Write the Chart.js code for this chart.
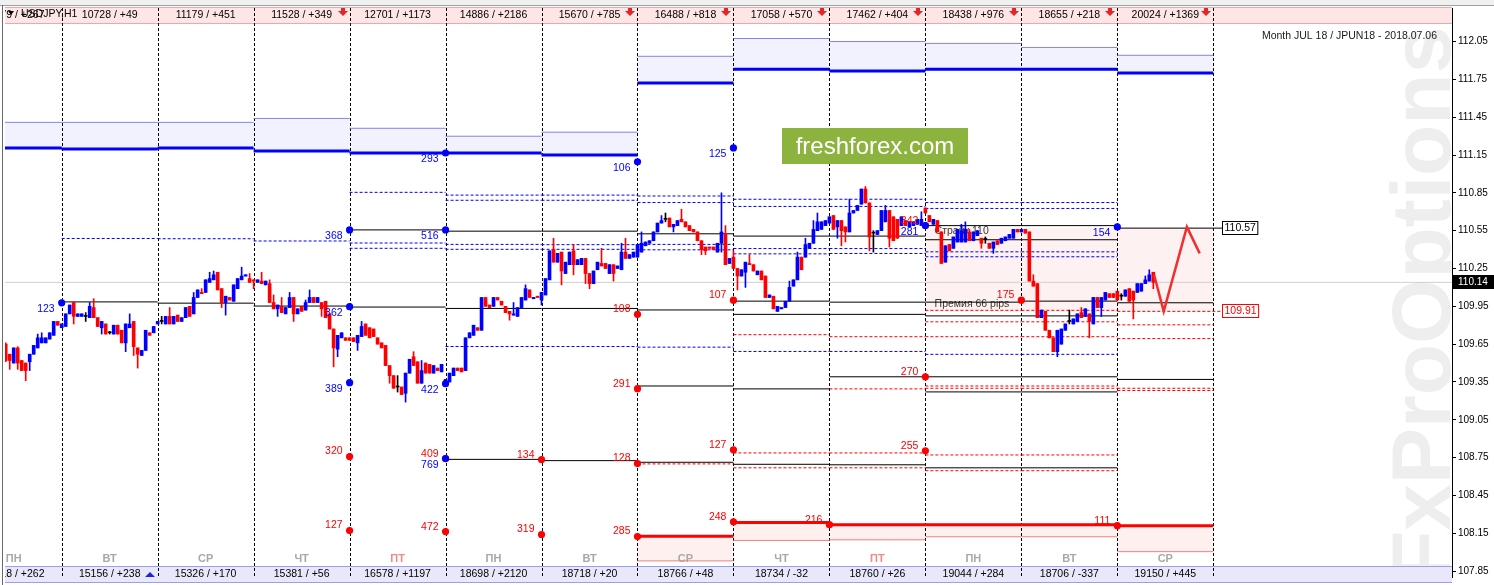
<!DOCTYPE html>
<html>
<head>
<meta charset="utf-8">
<script src="https://cdn.jsdelivr.net/npm/chart.js@4.4.1/dist/chart.umd.min.js"></script>
<style>
html,body{margin:0;padding:0;background:#fff;overflow:hidden}
#box{width:1494px;height:585px;position:relative}
</style>
</head>
<body>
<div id="box"><canvas id="chart"></canvas></div>
<script>
const _ = null;

// H1 candles, first one is 14 hours before the first day separator
const firstHour = -14;
const opens = [
  109.65,109.57,109.50,109.62,109.52,109.50,109.51,109.57,109.62,109.66,109.66,109.69,109.72,109.83,
  109.78,109.79,109.89,109.98,109.87,109.87,109.87,109.86,109.94,109.86,109.78,109.81,109.74,109.73,109.80,109.76,109.66,109.78,109.83,109.62,109.56,109.60,109.74,109.74,
  109.81,109.83,109.81,109.87,109.81,109.88,109.83,109.86,109.95,109.89,110.02,110.06,110.06,110.14,110.16,110.22,110.09,109.98,110.02,109.99,110.09,110.16,110.19,110.17,
  110.16,110.14,110.15,110.12,110.13,109.98,109.93,109.95,109.89,109.94,110.02,109.89,109.95,109.92,109.98,110.02,109.98,109.98,109.99,109.89,109.77,109.61,109.70,109.70,
  109.70,109.70,109.66,109.71,109.81,109.78,109.77,109.70,109.66,109.64,109.48,109.40,109.31,109.31,109.26,109.42,109.55,109.51,109.34,109.50,109.49,109.42,109.46,109.43,
  109.34,109.35,109.40,109.46,109.46,109.44,109.70,109.72,109.78,109.76,110.02,109.96,109.95,110.02,109.99,109.95,109.91,109.88,109.87,109.94,110.00,110.08,110.01,110.03,
  110.00,110.04,110.16,110.40,110.30,110.38,110.21,110.28,110.39,110.28,110.28,110.33,110.21,110.13,110.24,110.29,110.29,110.21,110.28,110.25,110.24,110.38,110.33,110.34,
  110.34,110.38,110.43,110.45,110.47,110.54,110.61,110.64,110.65,110.58,110.59,110.64,110.62,110.59,110.56,110.54,110.47,110.42,110.42,110.42,110.38,110.45,110.52,110.29,
  110.34,110.25,110.19,110.22,110.29,110.28,110.20,110.23,110.19,110.02,110.03,109.91,109.93,109.94,109.99,110.11,110.16,110.34,110.34,110.41,110.45,110.55,110.56,110.59,
  110.61,110.67,110.58,110.63,110.58,110.54,110.69,110.71,110.76,110.88,110.77,110.53,110.52,110.55,110.62,110.71,110.66,110.64,110.59,110.63,110.58,110.59,110.60,110.59,
  110.73,110.67,110.60,110.63,110.54,110.30,110.44,110.41,110.46,110.46,110.46,110.54,110.47,110.51,110.49,110.48,110.45,110.41,110.47,110.45,110.47,110.49,110.49,110.56,
  110.54,110.56,110.54,110.15,110.13,109.86,109.91,109.76,109.70,109.59,109.65,109.76,109.83,109.81,109.83,109.90,109.87,109.89,109.81,110.02,109.94,110.00,110.05,110.05,
  110.07,110.03,110.03,110.09,110.07,110.06,110.07,110.13,110.15,110.22
];
const closes = [
  109.52,109.52,109.62,109.50,109.44,109.44,109.57,109.64,109.70,109.70,109.70,109.74,109.83,109.80,
  109.81,109.89,109.96,109.87,109.89,109.89,109.87,109.95,109.86,109.79,109.83,109.73,109.74,109.80,109.73,109.66,109.81,109.81,109.63,109.57,109.60,109.76,109.72,109.79,
  109.83,109.83,109.87,109.81,109.87,109.83,109.86,109.94,109.87,110.02,110.08,110.05,110.16,110.17,110.20,110.08,109.98,110.03,110.00,110.12,110.17,110.19,110.20,110.14,
  110.15,110.16,110.13,110.15,109.98,109.93,109.96,109.90,109.94,110.02,109.89,109.93,109.91,109.98,110.02,109.98,110.02,109.93,109.86,109.77,109.62,109.72,109.74,109.68,
  109.68,109.67,109.72,109.79,109.72,109.70,109.71,109.65,109.62,109.48,109.40,109.30,109.31,109.25,109.42,109.53,109.48,109.34,109.44,109.42,109.42,109.48,109.44,109.49,
  109.37,109.42,109.46,109.44,109.43,109.70,109.74,109.80,109.76,110.02,109.95,109.94,110.02,110.00,109.96,109.90,109.89,109.89,109.94,110.02,110.09,110.02,110.02,110.02,
  110.06,110.17,110.39,110.30,110.37,110.23,110.30,110.38,110.28,110.32,110.33,110.21,110.13,110.23,110.30,110.27,110.25,110.28,110.21,110.27,110.38,110.33,110.36,110.38,
  110.44,110.45,110.46,110.47,110.54,110.61,110.63,110.64,110.58,110.60,110.63,110.62,110.58,110.55,110.54,110.47,110.40,110.39,110.41,110.40,110.45,110.54,110.28,110.33,
  110.25,110.19,110.24,110.30,110.28,110.23,110.23,110.16,110.02,110.04,109.93,109.95,109.94,109.99,110.10,110.16,110.34,110.24,110.44,110.45,110.56,110.62,110.62,110.63,
  110.66,110.56,110.63,110.55,110.54,110.69,110.71,110.75,110.88,110.77,110.50,110.53,110.55,110.71,110.71,110.49,110.47,110.49,110.66,110.59,110.62,110.62,110.64,110.64,
  110.69,110.62,110.64,110.54,110.29,110.43,110.39,110.50,110.56,110.55,110.56,110.47,110.54,110.55,110.45,110.48,110.41,110.46,110.44,110.49,110.50,110.52,110.56,110.54,
  110.56,110.53,110.15,110.11,109.86,109.92,109.76,109.70,109.59,109.76,109.77,109.81,109.83,109.85,109.89,109.86,109.93,109.83,110.02,109.94,110.02,110.06,110.02,110.02,
  110.00,110.03,110.08,109.99,110.00,110.13,110.13,110.16,110.20,110.14
];
// wick ends where they stick out of the body (null = no visible wick)
const highs = [
  109.66,_,_,109.63,_,_,_,_,109.73,109.74,_,_,_,_,
  _,_,_,_,_,_,109.90,109.98,110.01,_,_,_,109.75,_,_,_,_,109.89,_,_,_,_,_,_,
  _,109.87,_,109.94,_,_,_,_,_,110.06,_,110.09,_,110.22,110.23,_,_,_,_,_,_,110.26,_,110.21,
  _,_,110.22,_,110.16,110.04,_,110.02,_,110.06,_,_,_,110.00,110.08,_,_,_,_,_,_,_,_,_,
  _,_,_,109.83,_,_,_,_,_,_,_,_,109.40,_,_,_,109.59,_,109.52,_,_,_,_,_,
  _,_,_,_,_,_,_,_,_,_,_,_,_,_,_,_,_,109.98,_,_,110.12,_,_,_,
  _,_,_,110.49,_,_,_,_,110.44,_,_,_,_,_,_,110.41,_,_,_,_,110.45,110.49,_,_,
  _,110.54,_,_,_,_,110.67,110.69,_,_,_,110.72,_,_,_,_,_,_,_,_,_,110.85,110.59,_,
  110.39,_,_,_,110.36,_,_,_,_,_,_,_,_,_,110.15,_,110.38,_,110.49,_,110.63,110.69,_,_,
  _,_,_,_,_,110.80,_,_,_,110.90,_,110.55,_,_,110.75,_,_,_,_,_,_,_,_,110.70,
  _,_,_,_,_,_,_,_,_,110.60,110.62,110.56,_,_,_,110.50,_,_,_,_,_,_,_,_,
  _,_,_,110.20,_,_,_,_,_,_,_,_,109.92,_,_,109.94,_,_,_,_,_,_,_,_,
  _,110.05,_,_,_,_,_,110.19,110.24,_
];
const lows = [
  109.51,109.45,_,109.45,_,109.36,109.44,_,_,_,_,_,_,_,
  _,_,_,109.81,_,_,109.83,_,_,_,109.73,_,109.73,_,_,_,109.59,_,109.56,109.46,_,_,_,_,
  _,109.81,_,_,_,_,_,_,_,_,_,_,_,_,_,_,109.94,109.88,_,_,_,_,_,_,
  110.09,_,_,_,_,_,109.87,_,_,_,109.83,_,_,_,_,_,_,109.87,_,_,109.47,109.55,_,_,
  _,_,109.60,_,_,_,_,_,_,_,109.34,_,109.27,_,109.19,_,_,_,_,_,_,_,_,_,
  _,_,_,_,_,_,_,_,_,_,_,_,_,_,_,_,109.84,_,_,_,_,_,_,_,
  109.96,_,_,_,_,110.12,_,_,110.20,_,_,110.13,110.09,_,_,_,_,_,110.15,_,_,_,_,_,
  _,_,_,_,_,_,_,110.62,_,110.54,_,_,_,_,_,_,110.36,110.36,_,_,_,110.38,_,_,
  _,110.08,_,110.10,_,_,_,_,_,_,_,_,_,_,_,_,_,_,_,_,_,_,_,_,
  _,_,110.49,110.43,110.46,_,_,_,_,_,110.39,110.38,_,_,_,110.42,_,_,_,_,_,_,_,_,
  _,_,_,_,_,_,_,_,_,_,_,_,_,_,110.41,110.45,_,110.37,_,_,_,_,_,_,
  _,_,_,_,_,_,_,_,_,109.55,_,_,109.81,_,_,_,_,109.70,_,_,109.87,_,_,_,
  _,110.00,_,_,109.85,_,_,_,_,110.09
];

// day cells (hour where each day starts)
const dayStarts = [-24,0,24,48,72,96,120,144,168,192,216,240,264];
const dayEdges = [0,24,48,72,96,120,144,168,192,216,240,264,288];
const dayNames = ['ПН','ВТ','СР','ЧТ','ПТ','ПН','ВТ','СР','ЧТ','ПТ','ПН','ВТ','СР'];
const topStats = ['10679 / +267','10728 / +49','11179 / +451','11528 / +349','12701 / +1173','14886 / +2186','15670 / +785','16488 / +818','17058 / +570','17462 / +404','18438 / +976','18655 / +218','20024 / +1369'];
const bottomStats = ['14918 / +262','15156 / +238','15326 / +170','15381 / +56','16578 / +1197','18698 / +2120','18718 / +20','18766 / +48','18734 / -32','18760 / +26','19044 / +284','18706 / -337','19150 / +445'];
const topArrow = [0,0,0,1,0,0,1,1,1,1,1,1,1];
const bottomArrow = [0,1,0,0,0,0,0,0,0,0,0,0,0];

// option levels, one value per day cell
const callBold = [111.205,111.198,111.205,111.182,111.166,111.166,111.151,111.722,111.831,111.816,111.831,111.831,111.800];
const callThin = [111.409,111.409,111.409,111.440,111.362,111.299,111.331,111.933,112.074,112.050,112.035,112.003,111.941];
const putBold = [_,_,_,_,_,_,_,108.126,108.236,108.218,108.218,108.218,108.210];
const putThin = [_,_,_,_,_,_,_,107.931,108.093,108.098,108.122,108.122,108.004];

const blackHigh = [_,_,_,_,110.556,110.546,110.546,110.525,110.507,110.507,110.59,110.59,110.57];
const blackHigh2 = [_,_,_,_,_,_,_,_,_,_,110.478,110.478,_];
const blackMid = [_,109.985,109.975,109.952,109.944,109.933,109.933,109.921,109.991,109.983,109.983,109.991,109.978];
const blackMid2 = [_,_,_,_,_,_,_,_,109.886,109.886,109.874,109.874,_];
const blackLow = [_,_,_,_,_,_,_,109.318,109.295,109.391,109.391,109.391,109.370];
const blackLow2 = [_,_,_,_,_,_,_,_,_,_,109.271,109.271,_];
const blackBottom = [_,_,_,_,_,108.736,108.726,108.713,108.697,108.693,108.669,108.669,_];

const blueDash1 = [_,_,_,_,110.854,110.832,110.832,110.825,110.799,110.799,110.773,110.773,_];
const blueDash2 = [_,_,_,_,_,110.791,110.791,110.773,110.742,110.742,110.726,110.726,_];
const blueDash3 = [_,110.488,110.486,110.468,110.452,110.441,110.439,110.441,110.408,110.408,110.382,110.382,_];
const blueDash4 = [_,_,_,_,110.410,110.402,110.402,110.398,110.366,110.369,110.343,110.343,_];
const blueDash5 = [_,_,_,_,_,109.631,109.631,109.626,109.592,109.592,109.569,109.569,_];

const redDash1 = [_,_,_,_,_,_,_,_,_,_,109.918,109.918,109.91];
const redDash2 = [_,_,_,_,_,_,_,_,_,_,109.827,109.827,109.803];
const redDash3 = [_,_,_,_,_,_,_,_,109.725,109.709,109.709,109.709,109.694];
const redDash4 = [_,_,_,_,_,_,_,_,_,109.295,109.318,109.318,109.300];
const redDash5 = [_,_,_,_,_,_,_,_,_,_,109.300,109.300,109.282];
const redDash6 = [_,_,_,_,_,_,_,108.700,108.787,108.787,108.771,108.771,_];
const redDash7 = [_,_,_,_,_,_,_,_,108.669,108.669,108.646,108.646,_];

// premium zone (strike 110 / 66 pips)
const premiumCells = [10,11,12];
const premiumTop = 110.57;
const premiumBottom = 109.91;

// open interest dots
const callDotHours = [0,72,96,96,144,168,72,72,96,96,216,264];
const callDotPrices = [109.978,110.556,110.556,111.166,111.096,111.206,109.947,109.344,109.336,108.742,110.59,110.58];
const callDotText = ['123','368','516','293','106','125','362','389','422','769','281','154'];
const putDotHours = [72,72,96,96,120,120,144,144,144,144,168,168,168,192,216,216,216,240,264];
const putDotPrices = [108.758,108.171,108.742,108.163,108.734,108.140,109.886,109.297,108.703,108.124,109.999,108.812,108.241,108.218,110.59,109.391,108.804,109.999,108.210];
const putDotText = ['320','127','409','472','134','319','108','291','128','285','107','127','248','216','342','270','255','175','111'];

// forecast zigzag
const forecastHours = [273.2,275.6,281.4,284.6];
const forecastPrices = [110.20,109.91,110.58,110.37];

const lastPrice = 110.14;
const tagHour = 290.2;
const tagTexts = ['110.57','109.91'];
const tagPrices = [110.57,109.91];
const noteTexts = ['Страйк 110','Премия 66 pips'];
const noteHours = [218.3,218.3];
const notePrices = [110.543,109.964];
const priceTicks = [112.05,111.75,111.45,111.15,110.85,110.55,110.25,109.95,109.65,109.35,109.05,108.75,108.45,108.15,107.85];

const xMin = -14.18, xMax = 347.7;
const yMin = 107.803, yMax = 112.316;
const FONT = '"Liberation Sans", Arial, sans-serif';

// ---- build datasets
const hours = opens.map((o, i) => firstHour + i);
const candleColor = opens.map((o, i) => closes[i] > o ? '#0000ff' : (closes[i] < o ? '#ff0000' : '#000000'));
const bodyData = opens.map((o, i) => ({x: hours[i], y: [o, closes[i]]}));
const wickData = opens.map((o, i) => ({
  x: hours[i],
  y: [lows[i] ?? Math.min(o, closes[i]), highs[i] ?? Math.max(o, closes[i])]
}));

function levelPoints(levels, lastEnd) {
  const pts = [];
  levels.forEach((v, d) => {
    if (v === null) return;
    const s = dayStarts[d];
    const e = (lastEnd && d === levels.length - 1) ? lastEnd : s + 24;
    pts.push({x: s, y: v}, {x: e, y: v}, {x: e, y: null});
  });
  return pts;
}
function lineSet(levels, color, width, dash, lastEnd) {
  return {type: 'line', xAxisID: 'x', data: levelPoints(levels, lastEnd), borderColor: color,
    borderWidth: width, borderDash: dash, pointRadius: 0, pointHoverRadius: 0, spanGaps: false,
    fill: false, order: 5};
}
function bandSet(lowArr, highArr, color, cells) {
  const data = [];
  lowArr.forEach((v, d) => {
    if (v === null || highArr[d] === null) return;
    if (cells && cells.indexOf(d) < 0) return;
    data.push({x: dayStarts[d] + 12, y: [v, highArr[d]]});
  });
  return {type: 'bar', xAxisID: 'xb', data, backgroundColor: color, barPercentage: 1,
    categoryPercentage: 1, grouped: false, order: 10};
}
const premLow = dayStarts.map(() => premiumBottom);
const premHigh = dayStarts.map(() => premiumTop);

const datasets = [
  bandSet(callBold, callThin, '#f2f2fe'),
  bandSet(putThin, putBold, '#fff0f0'),
  bandSet(premLow, premHigh, '#fdf1f1', premiumCells),
  lineSet(callThin, '#8383f2', 1, []),
  lineSet(putThin, '#f37f7f', 1, []),
  lineSet(blueDash1, '#0000ff', 1, [3,2]),
  lineSet(blueDash2, '#0000ff', 1, [3,2]),
  lineSet(blueDash3, '#0000ff', 1, [3,2]),
  lineSet(blueDash4, '#0000ff', 1, [3,2]),
  lineSet(blueDash5, '#0000ff', 1, [3,2]),
  lineSet(redDash1, '#ff0000', 1, [3,2], tagHour),
  lineSet(redDash2, '#ff0000', 1, [3,2]),
  lineSet(redDash3, '#ff0000', 1, [3,2]),
  lineSet(redDash4, '#ff0000', 1, [3,2]),
  lineSet(redDash5, '#ff0000', 1, [3,2]),
  lineSet(redDash6, '#ff0000', 1, [3,2]),
  lineSet(redDash7, '#ff0000', 1, [3,2]),
  lineSet(blackHigh, '#000000', 1, [], tagHour),
  lineSet(blackHigh2, '#000000', 1, []),
  lineSet(blackMid, '#000000', 1, []),
  lineSet(blackMid2, '#000000', 1, []),
  lineSet(blackLow, '#000000', 1, []),
  lineSet(blackLow2, '#000000', 1, []),
  lineSet(blackBottom, '#000000', 1, []),
  lineSet(callBold, '#0000ff', 3, []),
  lineSet(putBold, '#ff0000', 3, []),
  {type: 'line', xAxisID: 'x', data: [{x: xMin, y: lastPrice}, {x: xMax, y: lastPrice}],
    borderColor: '#cfcfcf', borderWidth: 1, pointRadius: 0, order: 6},
  {type: 'bar', xAxisID: 'x', data: wickData, backgroundColor: candleColor, barThickness: 1, grouped: false, order: 2},
  {type: 'bar', xAxisID: 'x', data: bodyData, backgroundColor: candleColor, barThickness: 3, minBarLength: 1, grouped: false, order: 1},
  {type: 'line', xAxisID: 'x', data: forecastHours.map((h, i) => ({x: h, y: forecastPrices[i]})),
    borderColor: '#f03030', borderWidth: 2.5, pointRadius: 0, order: 0.5}
];
const putDotIndex = datasets.length;
datasets.push({type: 'line', xAxisID: 'x', showLine: false, order: 0.2,
  data: putDotHours.map((h, i) => ({x: h, y: putDotPrices[i]})),
  pointRadius: 3.6, pointBackgroundColor: '#ff0000', pointBorderWidth: 0});
const callDotIndex = datasets.length;
datasets.push({type: 'line', xAxisID: 'x', showLine: false, order: 0.1,
  data: callDotHours.map((h, i) => ({x: h, y: callDotPrices[i]})),
  pointRadius: 3.6, pointBackgroundColor: '#0000ff', pointBorderWidth: 0});

function drawArrow(ctx, x, y, down, color) {
  ctx.fillStyle = color;
  ctx.beginPath();
  const s = down ? 1 : -1;
  ctx.moveTo(x - 2, y - 4 * s);
  ctx.lineTo(x + 2, y - 4 * s);
  ctx.lineTo(x + 2, y - 1 * s);
  ctx.lineTo(x + 5, y - 1 * s);
  ctx.lineTo(x, y + 4 * s);
  ctx.lineTo(x - 5, y - 1 * s);
  ctx.lineTo(x - 2, y - 1 * s);
  ctx.closePath();
  ctx.fill();
}

const mt4 = {
  id: 'mt4',
  beforeDraw(chart) {
    const {ctx, chartArea: a} = chart;
    ctx.save();
    ctx.fillStyle = '#ffffff';
    ctx.fillRect(0, 0, chart.width, chart.height);
    ctx.fillStyle = '#f0f0f0';
    ctx.fillRect(0, 0, chart.width, 5);
    ctx.fillStyle = '#a0a0a0';
    ctx.fillRect(0, 5, chart.width, 1);
    ctx.fillStyle = '#696969';
    ctx.fillRect(2, 5, 1, chart.height - 5);
    ctx.beginPath();
    ctx.rect(a.left, a.top, a.right - a.left, a.bottom - a.top);
    ctx.clip();
    ctx.translate(1450, 582);
    ctx.rotate(-Math.PI / 2);
    ctx.font = 'bold 84px ' + FONT;
    ctx.fillStyle = '#eeeeee';
    ctx.textBaseline = 'alphabetic';
    ctx.fillText('FxProOptions', 0, 0);
    ctx.restore();
  },
  beforeDatasetsDraw(chart) {
    const {ctx, chartArea: a} = chart;
    const w = a.right - a.left;
    ctx.save();
    ctx.fillStyle = '#ffe6e6';
    ctx.fillRect(a.left, 7, w, 16);
    ctx.fillStyle = '#f4a6a6';
    ctx.fillRect(a.left, 7, w, 1);
    ctx.fillRect(a.left, 23, w, 1);
    ctx.fillStyle = '#e8e8fa';
    ctx.fillRect(a.left, 567, w, 15);
    ctx.fillStyle = '#9c9cf0';
    ctx.fillRect(a.left, 566, w, 1);
    ctx.fillRect(a.left, 582, w, 1);
    ctx.restore();
  },
  afterDatasetDraw(chart, args) {
    if (args.index !== 0) return;
    const {ctx, chartArea: a, scales} = chart;
    const xs = scales.x, ys = scales.y;
    ctx.save();
    ctx.beginPath();
    ctx.rect(a.left, a.top, a.right - a.left, a.bottom - a.top);
    ctx.clip();
    // day separators
    ctx.strokeStyle = '#000';
    ctx.lineWidth = 1;
    ctx.setLineDash([3, 2]);
    dayEdges.forEach(h => {
      const x = Math.round(xs.getPixelForValue(h)) + 0.5;
      ctx.beginPath();
      ctx.moveTo(x, a.top);
      ctx.lineTo(x, a.bottom);
      ctx.stroke();
    });
    ctx.setLineDash([]);
    // cell texts
    ctx.textAlign = 'center';
    ctx.textBaseline = 'middle';
    dayStarts.forEach((s, d) => {
      const cx = xs.getPixelForValue(s + 12);
      const rx = xs.getPixelForValue(s + 24);
      ctx.font = '10.5px ' + FONT;
      ctx.fillStyle = '#000';
      ctx.fillText(topStats[d], cx, 15.5);
      ctx.fillText(bottomStats[d], cx, 574.5);
      ctx.font = 'bold 11px ' + FONT;
      ctx.fillStyle = dayNames[d] === 'ПТ' ? '#f28a8a' : '#a8a8a8';
      ctx.fillText(dayNames[d], cx, 559);
      if (topArrow[d]) drawArrow(ctx, Math.round(rx) - 7, 12, true, '#e02828');
      if (bottomArrow[d]) drawArrow(ctx, Math.round(rx) - 8, 576, false, '#2020e0');
    });
    // text objects
    ctx.textAlign = 'left';
    ctx.font = '10.5px ' + FONT;
    ctx.fillStyle = '#3a3a2a';
    noteTexts.forEach((t, i) => {
      ctx.fillText(t, xs.getPixelForValue(noteHours[i]), ys.getPixelForValue(notePrices[i]));
    });
    ctx.restore();
  },
  afterDatasetsDraw(chart) {
    const {ctx, chartArea: a, scales} = chart;
    const xs = scales.x, ys = scales.y;
    ctx.save();
    ctx.font = '10.5px ' + FONT;
    ctx.textAlign = 'right';
    ctx.textBaseline = 'middle';
    chart.getDatasetMeta(putDotIndex).data.forEach((p, j) => {
      ctx.fillStyle = '#ff0000';
      ctx.fillText(putDotText[j], p.x - 7, p.y - 5);
    });
    chart.getDatasetMeta(callDotIndex).data.forEach((p, j) => {
      ctx.fillStyle = '#0000ff';
      ctx.fillText(callDotText[j], p.x - 7, p.y + 6);
    });
    // right tags
    ctx.textAlign = 'left';
    tagTexts.forEach((t, i) => {
      const x = Math.round(xs.getPixelForValue(tagHour)) + 0.5;
      const y = Math.round(ys.getPixelForValue(tagPrices[i]));
      const w = ctx.measureText(t).width + 4;
      const c = i === 0 ? '#000' : '#ff0000';
      ctx.fillStyle = '#fff';
      ctx.fillRect(x, y - 6.5, w, 13);
      ctx.strokeStyle = c;
      ctx.lineWidth = 1;
      ctx.strokeRect(x, y - 6.5, w, 13);
      ctx.fillStyle = c;
      ctx.fillText(t, x + 2, y + 0.5);
    });
    // broker banner
    ctx.fillStyle = '#8cb33e';
    ctx.fillRect(782, 128, 186, 36);
    ctx.fillStyle = '#fff';
    ctx.font = '24px ' + FONT;
    ctx.textAlign = 'center';
    ctx.fillText('freshforex.com', 875, 147);
    // captions
    ctx.font = '10.5px ' + FONT;
    ctx.fillStyle = '#1a1a1a';
    ctx.textAlign = 'right';
    ctx.fillText('Month JUL 18 / JPUN18 - 2018.07.06', 1437, 36);
    ctx.textAlign = 'left';
    ctx.fillStyle = '#000';
    ctx.fillText('USDJPY,H1', 21, 14);
    ctx.beginPath();
    ctx.moveTo(8, 11); ctx.lineTo(14, 11); ctx.lineTo(11, 15); ctx.closePath();
    ctx.fill();
    ctx.restore();
  },
  afterDraw(chart) {
    const {ctx, scales} = chart;
    const y = Math.round(scales.y.getPixelForValue(lastPrice));
    ctx.save();
    ctx.fillStyle = '#000';
    ctx.fillRect(1453, y - 7, 41, 14);
    ctx.fillStyle = '#fff';
    ctx.font = '10px ' + FONT;
    ctx.textAlign = 'left';
    ctx.textBaseline = 'middle';
    ctx.fillText(lastPrice.toFixed(2), 1458, y + 0.5);
    ctx.restore();
  }
};

new Chart(document.getElementById('chart'), {
  type: 'bar',
  data: {datasets},
  plugins: [mt4],
  options: {
    responsive: true,
    maintainAspectRatio: false,
    animation: false,
    devicePixelRatio: 1,
    events: [],
    layout: {padding: {left: 5, top: 6, right: 0, bottom: 2}},
    plugins: {legend: {display: false}, tooltip: {enabled: false}},
    scales: {
      x: {type: 'linear', min: xMin, max: xMax, offset: false, display: false},
      xb: {type: 'linear', min: xMin, max: xMax, offset: false, display: false,
        afterBuildTicks: s => { s.ticks = dayEdges.map(v => ({value: v})); }},
      y: {
        type: 'linear', position: 'right', min: yMin, max: yMax,
        afterBuildTicks: s => { s.ticks = priceTicks.map(v => ({value: v})); },
        afterFit: s => { s.width = 42; },
        grid: {drawOnChartArea: false, drawTicks: true, tickLength: 4, color: '#000'},
        border: {display: true, color: '#000'},
        ticks: {color: '#000', font: {family: FONT, size: 10}, padding: 2, autoSkip: false,
          callback: v => Number(v).toFixed(2)}
      }
    }
  }
});
</script>
</body>
</html>
